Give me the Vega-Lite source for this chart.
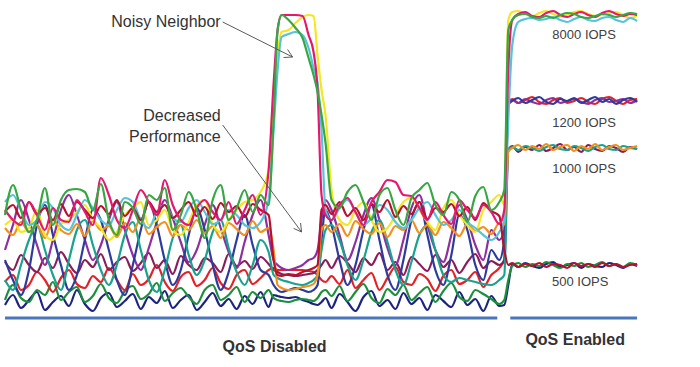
{
"$schema": "https://vega.github.io/schema/vega-lite/v6.json",
"width": 700, "height": 367,
"autosize": {"type": "fit", "contains": "padding"},
"padding": 0,
"background": "white",
"config": {"view": {"stroke": null}},
"datasets": {
"perf": [
{"t":4,"gr":105,"mg":110,"yl":95,"cy":118,"cr":108,"or":92,"tl":40,"bl":60,"pu":70,"mr":58,"rd":38,"dg":20,"nv":15},
{"t":12,"gr":135,"mg":100,"yl":100,"cy":125,"cr":115,"or":85,"tl":30,"bl":40,"pu":95,"mr":50,"rd":45,"dg":35,"nv":25},
{"t":20,"gr":110,"mg":95,"yl":88,"cy":110,"cr":102,"or":98,"tl":55,"bl":25,"pu":120,"mr":65,"rd":30,"dg":22,"nv":12},
{"t":28,"gr":88,"mg":118,"yl":92,"cy":95,"cr":118,"or":88,"tl":80,"bl":50,"pu":100,"mr":55,"rd":35,"dg":18,"nv":20},
{"t":36,"gr":100,"mg":105,"yl":110,"cy":100,"cr":106,"or":95,"tl":95,"bl":95,"pu":75,"mr":48,"rd":48,"dg":30,"nv":28},
{"t":44,"gr":132,"mg":90,"yl":85,"cy":118,"cr":112,"or":82,"tl":70,"bl":115,"pu":55,"mr":62,"rd":40,"dg":25,"nv":10},
{"t":52,"gr":95,"mg":112,"yl":80,"cy":112,"cr":100,"or":100,"tl":45,"bl":85,"pu":80,"mr":52,"rd":28,"dg":38,"nv":18},
{"t":60,"gr":120,"mg":100,"yl":96,"cy":95,"cr":116,"or":90,"tl":30,"bl":55,"pu":110,"mr":68,"rd":42,"dg":20,"nv":24},
{"t":68,"gr":130,"mg":98,"yl":100,"cy":90,"cr":104,"or":86,"tl":60,"bl":30,"pu":125,"mr":56,"rd":50,"dg":28,"nv":14},
{"t":76,"gr":131,"mg":120,"yl":108,"cy":105,"cr":118,"or":96,"tl":90,"bl":45,"pu":105,"mr":47,"rd":36,"dg":33,"nv":30},
{"t":84,"gr":128,"mg":108,"yl":115,"cy":120,"cr":110,"or":84,"tl":100,"bl":80,"pu":80,"mr":60,"rd":32,"dg":18,"nv":16},
{"t":92,"gr":110,"mg":95,"yl":100,"cy":112,"cr":102,"or":99,"tl":75,"bl":110,"pu":60,"mr":53,"rd":44,"dg":24,"nv":9},
{"t":100,"gr":136,"mg":142,"yl":92,"cy":100,"cr":114,"or":90,"tl":50,"bl":100,"pu":75,"mr":66,"rd":38,"dg":36,"nv":22},
{"t":108,"gr":100,"mg":125,"yl":80,"cy":95,"cr":106,"or":94,"tl":35,"bl":70,"pu":100,"mr":50,"rd":52,"dg":22,"nv":27},
{"t":116,"gr":85,"mg":100,"yl":88,"cy":110,"cr":120,"or":83,"tl":55,"bl":40,"pu":118,"mr":58,"rd":40,"dg":17,"nv":13},
{"t":124,"gr":118,"mg":92,"yl":105,"cy":122,"cr":104,"or":97,"tl":85,"bl":25,"pu":90,"mr":63,"rd":30,"dg":29,"nv":19},
{"t":132,"gr":112,"mg":110,"yl":112,"cy":118,"cr":112,"or":88,"tl":98,"bl":55,"pu":65,"mr":49,"rd":46,"dg":34,"nv":26},
{"t":140,"gr":96,"mg":130,"yl":118,"cy":100,"cr":100,"or":102,"tl":70,"bl":90,"pu":50,"mr":57,"rd":35,"dg":21,"nv":11},
{"t":148,"gr":125,"mg":118,"yl":95,"cy":92,"cr":118,"or":86,"tl":40,"bl":118,"pu":72,"mr":67,"rd":41,"dg":26,"nv":23},
{"t":156,"gr":120,"mg":105,"yl":100,"cy":108,"cr":108,"or":93,"tl":28,"bl":95,"pu":98,"mr":52,"rd":55,"dg":37,"nv":17},
{"t":164,"gr":132,"mg":140,"yl":110,"cy":115,"cr":115,"or":98,"tl":50,"bl":60,"pu":120,"mr":60,"rd":38,"dg":19,"nv":29},
{"t":172,"gr":90,"mg":115,"yl":90,"cy":102,"cr":102,"or":84,"tl":82,"bl":35,"pu":102,"mr":46,"rd":29,"dg":27,"nv":12},
{"t":180,"gr":105,"mg":100,"yl":85,"cy":98,"cr":110,"or":95,"tl":95,"bl":50,"pu":78,"mr":64,"rd":43,"dg":32,"nv":20},
{"t":188,"gr":128,"mg":95,"yl":98,"cy":112,"cr":118,"or":90,"tl":65,"bl":85,"pu":58,"mr":55,"rd":48,"dg":23,"nv":25},
{"t":196,"gr":110,"mg":112,"yl":115,"cy":120,"cr":104,"or":100,"tl":45,"bl":112,"pu":70,"mr":50,"rd":34,"dg":16,"nv":10},
{"t":204,"gr":82,"mg":120,"yl":120,"cy":108,"cr":113,"or":87,"tl":60,"bl":90,"pu":95,"mr":62,"rd":40,"dg":30,"nv":18},
{"t":212,"gr":120,"mg":108,"yl":96,"cy":96,"cr":101,"or":94,"tl":88,"bl":55,"pu":115,"mr":57,"rd":52,"dg":35,"nv":27},
{"t":220,"gr":135,"mg":100,"yl":88,"cy":100,"cr":117,"or":82,"tl":100,"bl":30,"pu":92,"mr":48,"rd":37,"dg":20,"nv":14},
{"t":228,"gr":100,"mg":118,"yl":100,"cy":110,"cr":108,"or":97,"tl":72,"bl":48,"pu":68,"mr":66,"rd":31,"dg":25,"nv":21},
{"t":236,"gr":112,"mg":96,"yl":110,"cy":105,"cr":114,"or":91,"tl":48,"bl":80,"pu":52,"mr":54,"rd":45,"dg":33,"nv":11},
{"t":244,"gr":130,"mg":110,"yl":118,"cy":95,"cr":103,"or":85,"tl":35,"bl":105,"pu":78,"mr":59,"rd":50,"dg":18,"nv":24},
{"t":252,"gr":108,"mg":125,"yl":120,"cy":92,"cr":116,"or":99,"tl":55,"bl":75,"pu":105,"mr":51,"rd":36,"dg":28,"nv":16},
{"t":260,"gr":125,"mg":105,"yl":128,"cy":98,"cr":110,"or":88,"tl":80,"bl":50,"pu":120,"mr":63,"rd":42,"dg":22,"nv":28},
{"t":268,"gr":115,"mg":150,"yl":150,"cy":120,"cr":105,"or":92,"tl":68,"bl":45,"pu":85,"mr":56,"rd":50,"dg":30,"nv":13},
{"t":273,"gr":200,"mg":236,"yl":232,"cy":190,"cr":60,"or":70,"tl":45,"bl":35,"pu":60,"mr":50,"rd":52,"dg":22,"nv":25},
{"t":277,"gr":290,"mg":290,"yl":268,"cy":250,"cr":45,"or":35,"tl":42,"bl":30,"pu":55,"mr":48,"rd":50,"dg":20,"nv":24},
{"t":281,"gr":305,"mg":305,"yl":288,"cy":283,"cr":44,"or":32,"tl":40,"bl":28,"pu":52,"mr":46,"rd":50,"dg":19,"nv":23},
{"t":288,"gr":300,"mg":305,"yl":290,"cy":286,"cr":46,"or":30,"tl":38,"bl":30,"pu":50,"mr":45,"rd":50,"dg":18,"nv":22},
{"t":295,"gr":292,"mg":305,"yl":297,"cy":288,"cr":45,"or":31,"tl":36,"bl":32,"pu":52,"mr":44,"rd":50,"dg":20,"nv":23},
{"t":302,"gr":282,"mg":304,"yl":303,"cy":285,"cr":48,"or":33,"tl":35,"bl":30,"pu":55,"mr":45,"rd":50,"dg":21,"nv":20},
{"t":308,"gr":262,"mg":285,"yl":305,"cy":272,"cr":50,"or":34,"tl":37,"bl":28,"pu":60,"mr":46,"rd":49,"dg":20,"nv":18},
{"t":313,"gr":245,"mg":268,"yl":304,"cy":252,"cr":52,"or":36,"tl":40,"bl":30,"pu":62,"mr":47,"rd":48,"dg":19,"nv":16},
{"t":317,"gr":228,"mg":230,"yl":265,"cy":237,"cr":55,"or":45,"tl":45,"bl":35,"pu":70,"mr":50,"rd":45,"dg":22,"nv":15},
{"t":321,"gr":205,"mg":125,"yl":230,"cy":190,"cr":110,"or":90,"tl":70,"bl":80,"pu":100,"mr":55,"rd":40,"dg":28,"nv":18},
{"t":325,"gr":177,"mg":105,"yl":205,"cy":110,"cr":115,"or":95,"tl":90,"bl":110,"pu":120,"mr":60,"rd":38,"dg":30,"nv":22},
{"t":331,"gr":120,"mg":100,"yl":130,"cy":100,"cr":106,"or":88,"tl":95,"bl":95,"pu":110,"mr":52,"rd":44,"dg":24,"nv":12},
{"t":339,"gr":112,"mg":115,"yl":100,"cy":112,"cr":118,"or":96,"tl":80,"bl":60,"pu":85,"mr":64,"rd":36,"dg":34,"nv":26},
{"t":347,"gr":128,"mg":122,"yl":95,"cy":120,"cr":104,"or":84,"tl":55,"bl":35,"pu":60,"mr":57,"rd":50,"dg":19,"nv":18},
{"t":355,"gr":135,"mg":108,"yl":110,"cy":108,"cr":112,"or":99,"tl":40,"bl":55,"pu":78,"mr":48,"rd":32,"dg":28,"nv":9},
{"t":363,"gr":118,"mg":95,"yl":118,"cy":95,"cr":100,"or":91,"tl":60,"bl":90,"pu":105,"mr":62,"rd":40,"dg":36,"nv":23},
{"t":371,"gr":100,"mg":118,"yl":100,"cy":102,"cr":116,"or":86,"tl":88,"bl":115,"pu":122,"mr":55,"rd":47,"dg":22,"nv":29},
{"t":379,"gr":125,"mg":128,"yl":88,"cy":115,"cr":108,"or":97,"tl":100,"bl":80,"pu":100,"mr":67,"rd":30,"dg":17,"nv":14},
{"t":387,"gr":132,"mg":140,"yl":92,"cy":110,"cr":120,"or":83,"tl":78,"bl":45,"pu":72,"mr":50,"rd":42,"dg":31,"nv":20},
{"t":395,"gr":110,"mg":138,"yl":105,"cy":98,"cr":103,"or":94,"tl":50,"bl":30,"pu":55,"mr":58,"rd":53,"dg":25,"nv":11},
{"t":403,"gr":95,"mg":125,"yl":118,"cy":92,"cr":114,"or":90,"tl":35,"bl":60,"pu":80,"mr":45,"rd":38,"dg":35,"nv":27},
{"t":411,"gr":122,"mg":124,"yl":122,"cy":100,"cr":106,"or":100,"tl":58,"bl":100,"pu":112,"mr":63,"rd":35,"dg":20,"nv":16},
{"t":419,"gr":130,"mg":112,"yl":110,"cy":112,"cr":118,"or":87,"tl":85,"bl":118,"pu":125,"mr":56,"rd":46,"dg":27,"nv":22},
{"t":427,"gr":137,"mg":100,"yl":98,"cy":118,"cr":101,"or":95,"tl":95,"bl":85,"pu":95,"mr":49,"rd":41,"dg":33,"nv":10},
{"t":435,"gr":115,"mg":118,"yl":90,"cy":105,"cr":112,"or":85,"tl":70,"bl":50,"pu":70,"mr":65,"rd":29,"dg":18,"nv":25},
{"t":443,"gr":105,"mg":105,"yl":112,"cy":95,"cr":108,"or":98,"tl":45,"bl":35,"pu":58,"mr":53,"rd":44,"dg":29,"nv":19},
{"t":451,"gr":128,"mg":96,"yl":120,"cy":100,"cr":116,"or":92,"tl":38,"bl":65,"pu":85,"mr":60,"rd":50,"dg":37,"nv":13},
{"t":459,"gr":120,"mg":120,"yl":105,"cy":110,"cr":104,"or":84,"tl":42,"bl":105,"pu":115,"mr":47,"rd":36,"dg":23,"nv":28},
{"t":467,"gr":98,"mg":110,"yl":95,"cy":98,"cr":113,"or":96,"tl":40,"bl":90,"pu":100,"mr":58,"rd":40,"dg":19,"nv":15},
{"t":475,"gr":124,"mg":102,"yl":88,"cy":92,"cr":100,"or":89,"tl":38,"bl":55,"pu":75,"mr":66,"rd":48,"dg":30,"nv":21},
{"t":483,"gr":133,"mg":115,"yl":110,"cy":85,"cr":117,"or":93,"tl":36,"bl":40,"pu":60,"mr":52,"rd":33,"dg":26,"nv":9},
{"t":491,"gr":110,"mg":108,"yl":118,"cy":80,"cr":109,"or":86,"tl":35,"bl":70,"pu":90,"mr":59,"rd":45,"dg":21,"nv":24},
{"t":499,"gr":118,"mg":96,"yl":125,"cy":88,"cr":104,"or":97,"tl":40,"bl":60,"pu":80,"mr":55,"rd":52,"dg":16,"nv":14},
{"t":504,"gr":130,"mg":110,"yl":115,"cy":100,"cr":70,"or":95,"tl":45,"bl":80,"pu":90,"mr":60,"rd":60,"dg":20,"nv":15},
{"t":508,"gr":290,"mg":250,"yl":300,"cy":200,"cr":55,"or":168,"tl":170,"bl":215,"pu":216,"mr":170,"rd":218,"dg":40,"nv":35},
{"t":512,"gr":300,"mg":300,"yl":308,"cy":275,"cr":57,"or":172,"tl":173,"bl":219,"pu":220,"mr":174,"rd":221,"dg":54,"nv":56},
{"t":518,"gr":305,"mg":306,"yl":309,"cy":298,"cr":53,"or":175,"tl":170,"bl":222,"pu":217,"mr":168,"rd":217,"dg":57,"nv":53},
{"t":525,"gr":306,"mg":308,"yl":306,"cy":301,"cr":56,"or":170,"tl":174,"bl":217,"pu":221,"mr":173,"rd":220,"dg":53,"nv":57},
{"t":532,"gr":303,"mg":304,"yl":304,"cy":302,"cr":54,"or":174,"tl":172,"bl":220,"pu":218,"mr":170,"rd":223,"dg":56,"nv":54},
{"t":539,"gr":302,"mg":303,"yl":307,"cy":300,"cr":57,"or":171,"tl":169,"bl":223,"pu":216,"mr":175,"rd":218,"dg":54,"nv":52},
{"t":546,"gr":304,"mg":307,"yl":309,"cy":301,"cr":53,"or":176,"tl":173,"bl":218,"pu":220,"mr":169,"rd":216,"dg":58,"nv":56},
{"t":553,"gr":302,"mg":309,"yl":306,"cy":303,"cr":56,"or":170,"tl":175,"bl":216,"pu":222,"mr":172,"rd":220,"dg":55,"nv":58},
{"t":560,"gr":305,"mg":305,"yl":303,"cy":300,"cr":55,"or":173,"tl":171,"bl":221,"pu":217,"mr":176,"rd":222,"dg":52,"nv":53},
{"t":567,"gr":307,"mg":303,"yl":305,"cy":298,"cr":52,"or":175,"tl":170,"bl":219,"pu":219,"mr":170,"rd":217,"dg":56,"nv":55},
{"t":574,"gr":306,"mg":306,"yl":308,"cy":301,"cr":57,"or":169,"tl":174,"bl":222,"pu":221,"mr":173,"rd":219,"dg":54,"nv":57},
{"t":581,"gr":303,"mg":308,"yl":309,"cy":303,"cr":54,"or":174,"tl":172,"bl":217,"pu":218,"mr":168,"rd":222,"dg":57,"nv":52},
{"t":588,"gr":302,"mg":305,"yl":306,"cy":300,"cr":56,"or":171,"tl":169,"bl":220,"pu":216,"mr":175,"rd":218,"dg":53,"nv":56},
{"t":595,"gr":304,"mg":303,"yl":304,"cy":299,"cr":53,"or":176,"tl":173,"bl":223,"pu":220,"mr":171,"rd":216,"dg":55,"nv":54},
{"t":602,"gr":306,"mg":307,"yl":305,"cy":302,"cr":57,"or":170,"tl":175,"bl":218,"pu":222,"mr":169,"rd":221,"dg":58,"nv":53},
{"t":609,"gr":305,"mg":309,"yl":307,"cy":303,"cr":54,"or":173,"tl":171,"bl":221,"pu":218,"mr":174,"rd":223,"dg":54,"nv":57},
{"t":616,"gr":303,"mg":306,"yl":308,"cy":300,"cr":56,"or":175,"tl":170,"bl":216,"pu":219,"mr":172,"rd":219,"dg":56,"nv":55},
{"t":623,"gr":305,"mg":304,"yl":305,"cy":298,"cr":53,"or":170,"tl":174,"bl":220,"pu":221,"mr":168,"rd":216,"dg":53,"nv":52},
{"t":630,"gr":307,"mg":306,"yl":302,"cy":302,"cr":55,"or":172,"tl":172,"bl":222,"pu":217,"mr":173,"rd":220,"dg":57,"nv":56},
{"t":637,"gr":306,"mg":305,"yl":304,"cy":299,"cr":56,"or":174,"tl":171,"bl":218,"pu":220,"mr":171,"rd":221,"dg":55,"nv":54}
],
"base": [{"from":4,"to":497,"v":2},{"from":510,"to":637,"v":2}],
"arrows": [
{"x1":222,"y1":298,"x2":292,"y2":263},
{"x1":292,"y1":263,"x2":287,"y2":270.5},
{"x1":292,"y1":263,"x2":283,"y2":262.5},
{"x1":222,"y1":195,"x2":301,"y2":88},
{"x1":301,"y1":88,"x2":300,"y2":97},
{"x1":301,"y1":88,"x2":293,"y2":91.6}
],
"iops": [
{"t":584,"v":285,"label":"8000 IOPS"},
{"t":584,"v":197,"label":"1200 IOPS"},
{"t":584,"v":151,"label":"1000 IOPS"},
{"t":580,"v":38,"label":"500 IOPS"}
],
"qos": [
{"t":274,"v":-27,"label":"QoS Disabled"},
{"t":575,"v":-20,"label":"QoS Enabled"}
],
"notes": [
{"t":220,"v":298,"label":"Noisy Neighbor"},
{"t":220,"v":204,"label":"Decreased"},
{"t":220,"v":183,"label":"Performance"}
]
},
"layer": [
{
"data": {"name": "perf"},
"transform": [{"fold": ["nv","dg","rd","mr","pu","bl","tl","or","yl","cy","cr","mg","gr"], "as": ["series","v"]}],
"mark": {"type": "line", "strokeWidth": 2.2, "interpolate": "monotone"},
"encoding": {
"x": {"field": "t", "type": "quantitative", "scale": {"domain": [0,700], "nice": false, "zero": false}, "axis": null},
"y": {"field": "v", "type": "quantitative", "scale": {"domain": [-47,320], "nice": false, "zero": false}, "axis": null},
"color": {"field": "series", "type": "nominal", "legend": null,
"scale": {"domain": ["nv","dg","rd","mr","pu","bl","tl","or","yl","cy","cr","mg","gr"],
"range": ["#1d2380","#1c8f3c","#e52027","#8c1c59","#8d2f9f","#2e3a9c","#18a38f","#f3901d","#f3e71f","#55c3d9","#b7112c","#e5176f","#37a744"]}},
"order": {"field": "series"}
}
},
{
"data": {"name": "base"},
"mark": {"type": "rule", "color": "#4a76bb", "strokeWidth": 3.2},
"encoding": {
"x": {"field": "from", "type": "quantitative"},
"x2": {"field": "to"},
"y": {"field": "v", "type": "quantitative"}
}
},
{
"data": {"name": "arrows"},
"mark": {"type": "rule", "color": "#5a5a5a", "strokeWidth": 1},
"encoding": {
"x": {"field": "x1", "type": "quantitative"},
"y": {"field": "y1", "type": "quantitative"},
"x2": {"field": "x2"},
"y2": {"field": "y2"}
}
},
{
"data": {"name": "iops"},
"mark": {"type": "text", "font": "Liberation Sans", "fontSize": 13, "color": "#404040", "align": "center", "baseline": "middle"},
"encoding": {
"x": {"field": "t", "type": "quantitative"},
"y": {"field": "v", "type": "quantitative"},
"text": {"field": "label"}
}
},
{
"data": {"name": "qos"},
"mark": {"type": "text", "font": "Liberation Sans", "fontSize": 16, "fontWeight": "bold", "color": "#333333", "align": "center", "baseline": "middle"},
"encoding": {
"x": {"field": "t", "type": "quantitative"},
"y": {"field": "v", "type": "quantitative"},
"text": {"field": "label"}
}
},
{
"data": {"name": "notes"},
"mark": {"type": "text", "font": "Liberation Sans", "fontSize": 16, "color": "#333333", "align": "right", "baseline": "middle"},
"encoding": {
"x": {"field": "t", "type": "quantitative"},
"y": {"field": "v", "type": "quantitative"},
"text": {"field": "label"}
}
}
]
}
